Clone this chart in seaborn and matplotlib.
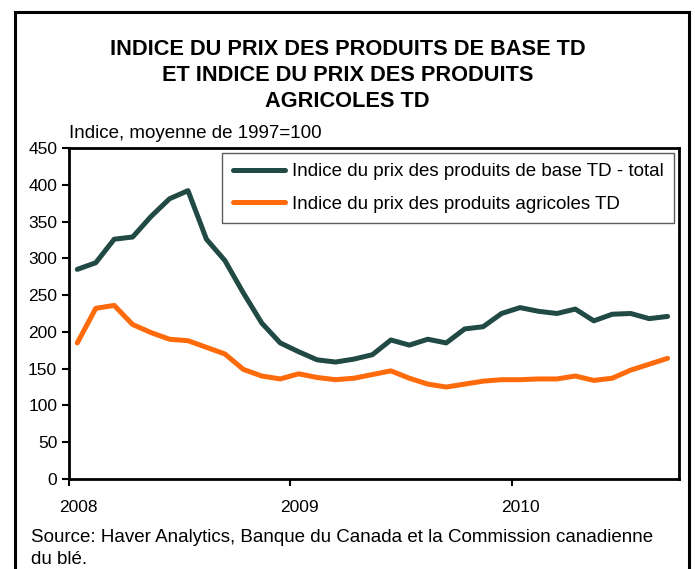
import matplotlib
matplotlib.use("Agg")
import matplotlib.pyplot as plt
import matplotlib.patches as patches
import matplotlib.transforms as mtransforms
import seaborn as sns
import pandas as pd

# monthly values, Jan 2008 .. Sep 2010
base_total = [285, 294, 326, 329, 357, 381, 392, 326, 297, 253, 212, 185,
              173, 162, 159, 163, 169, 189, 182, 190, 185, 204, 207, 225,
              233, 228, 225, 231, 215, 224, 225, 218, 221]
agricole = [185, 232, 236, 210, 199, 190, 188, 179, 170, 149, 140, 136,
            143, 138, 135, 137, 142, 147, 137, 129, 125, 129, 133, 135,
            135, 136, 136, 140, 134, 137, 148, 156, 164]
series_names = ["Indice du prix des produits de base TD - total",
                "Indice du prix des produits agricoles TD"]
year_ticks = [2008, 2009, 2010]
y_ticks = list(range(0, 451, 50))

months = [2008 + (i + 0.45) / 12 for i in range(len(base_total))]
df = pd.DataFrame({
    "date": months * 2,
    "valeur": base_total + agricole,
    "serie": [series_names[0]] * len(months) + [series_names[1]] * len(months),
})

sns.set_theme(style="ticks")
plt.rcParams["font.family"] = ["Liberation Sans", "DejaVu Sans"]
plt.rcParams["text.color"] = "black"

fig = plt.figure(figsize=(6.95, 5.69), dpi=100)
ax = fig.add_axes([0.0993, 0.1582, 0.8777, 0.5817])

sns.lineplot(data=df, x="date", y="valeur", hue="serie", ax=ax,
             palette=["#214a44", "#ff6a0a"], linewidth=3.6, legend=True)

ax.set_xlim(2008, 2008 + 33.07 / 12)
ax.set_ylim(0, 450)
ax.set_xticks(year_ticks)
ax.set_xticklabels([str(y) for y in year_ticks])
ax.set_yticks(y_ticks)
ax.set_xlabel("")
ax.set_ylabel("")
ax.tick_params(axis="both", labelsize=12.5, colors="black", width=1.5,
               length=5, direction="out")
ax.tick_params(axis="x", pad=10)
for lbl in ax.get_xticklabels():
    lbl.set_transform(lbl.get_transform() +
                      mtransforms.ScaledTranslation(9 / 100, 0, fig.dpi_scale_trans))
for sp in ax.spines.values():
    sp.set_visible(True)
    sp.set_linewidth(2)
    sp.set_color("black")

leg = ax.legend(loc="upper right", bbox_to_anchor=(0.992, 0.985),
                borderaxespad=0, fontsize=13.5, handlelength=2.8,
                labelspacing=0.8, fancybox=False, frameon=True,
                borderpad=0.55, handletextpad=0.37)
leg.get_frame().set_edgecolor("#333333")
leg.get_frame().set_linewidth(1.0)
for t in leg.get_texts():
    t.set_color("black")

fig.text(0.5, 1 - 75.5 / 569, "INDICE DU PRIX DES PRODUITS DE BASE TD\n"
         "ET INDICE DU PRIX DES PRODUITS\nAGRICOLES TD",
         ha="center", va="center", fontsize=15.7, fontweight="bold",
         linespacing=1.32)
fig.text(69 / 695, 1 - 134 / 569, "Indice, moyenne de 1997=100",
         ha="left", va="center", fontsize=13.5)
fig.text(31 / 695, 1 - 537 / 569,
         "Source: Haver Analytics, Banque du Canada et la Commission canadienne",
         ha="left", va="center", fontsize=13.5)
fig.text(31 / 695, 1 - 560 / 569, "du blé.", ha="left", va="center", fontsize=13.5)

frame = patches.Rectangle((14.5 / 695, -0.05), (689 - 14.5) / 695, 1.05 - 11.5 / 569,
                          transform=fig.transFigure, fill=False,
                          edgecolor="black", linewidth=2.2)
fig.patches.append(frame)

fig.savefig("out.png", dpi=100)
